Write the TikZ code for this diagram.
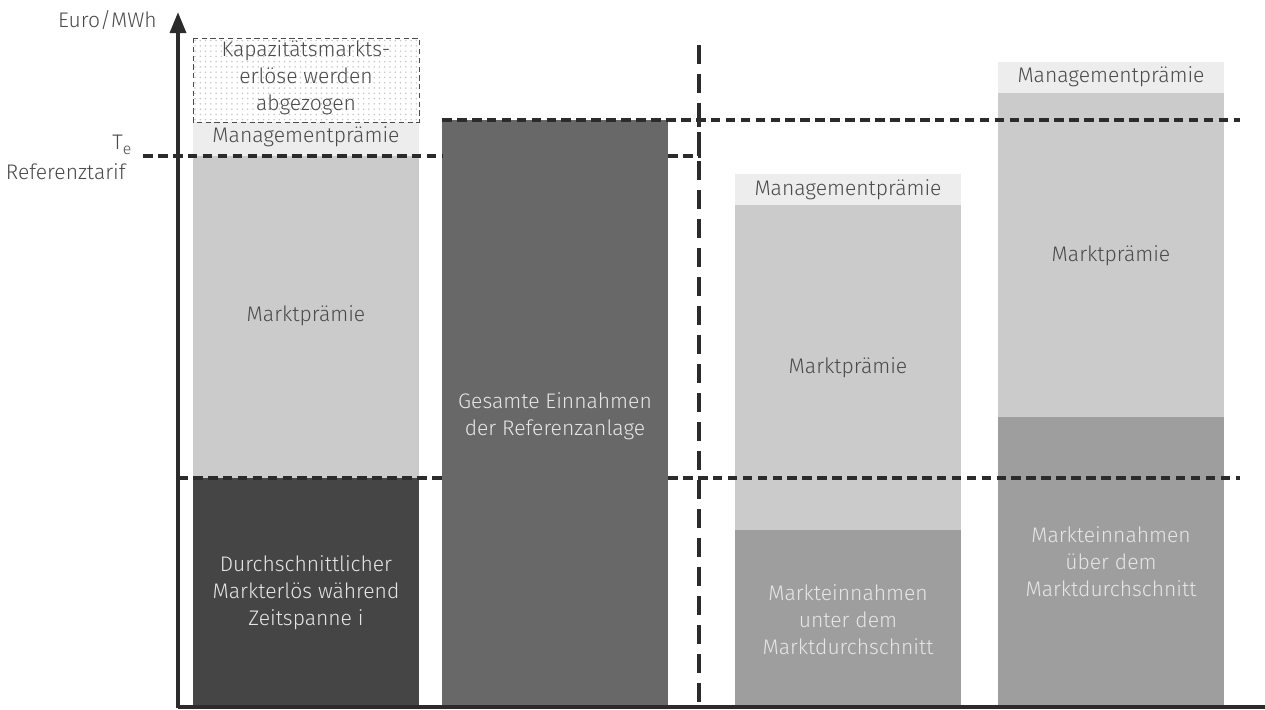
\documentclass[tikz,border=0pt]{standalone}
\usepackage{fontspec}
\setmainfont{Fira Sans Light}
\usetikzlibrary{arrows.meta, patterns}
\definecolor{darkseg}{HTML}{454545}
\definecolor{totalseg}{HTML}{686868}
\definecolor{midseg}{HTML}{9E9E9E}
\definecolor{lightseg}{HTML}{CBCBCB}
\definecolor{mgmtseg}{HTML}{EDEDED}
\definecolor{txtgrey}{HTML}{4A4A4A}
\definecolor{txtlight}{HTML}{E6E6E6}
\definecolor{guide}{HTML}{2B2B2B}

\begin{document}
\begin{tikzpicture}[x=0.02cm, y=-0.02cm,
    every node/.style={font=\fontsize{12}{15.4}\selectfont, align=center, text=txtgrey, inner sep=0pt},
    lighttxt/.style={text=txtlight},
    guideline/.style={draw=guide, line width=2pt, dash pattern=on 5.5pt off 3pt},
    sepline/.style={draw=guide, line width=2.8pt, dash pattern=on 11pt off 5.5pt}]
    \useasboundingbox (0,0) rectangle (1265,710);
    % bar 1: Referenztarif
    \fill[darkseg] (193,478) rectangle (419,706);
    \fill[lightseg] (193,156) rectangle (419,478);
    \fill[mgmtseg] (193,122) rectangle (419,156);
    \draw[pattern=dots, pattern color=gray!45, draw=txtgrey, densely dashed, line width=0.5pt] (193,38) rectangle (419,122);
    \node (kap) at (306,78) {Kapazitätsmarkts-\\erlöse werden\\abgezogen};
    \node (mgmt1) at (306,137) {Managementprämie};
    \node (mp1) at (306,316) {Marktprämie};
    \node[lighttxt] (avg) at (306,593) {Durchschnittlicher\\Markterlös während\\Zeitspanne i};
    % bar 2: Referenzanlage
    \fill[totalseg] (442,120) rectangle (668,706);
    \node[lighttxt] (total) at (555,416) {Gesamte Einnahmen\\der Referenzanlage};
    % bar 3: unter dem Durchschnitt
    \fill[midseg] (735,530) rectangle (961,706);
    \fill[lightseg] (735,205) rectangle (961,530);
    \fill[mgmtseg] (735,174) rectangle (961,205);
    \node (mgmt3) at (848,190) {Managementprämie};
    \node (mp3) at (848,368) {Marktprämie};
    \node[lighttxt] (low) at (848,620) {Markteinnahmen\\unter dem\\Marktdurchschnitt};
    % bar 4: ueber dem Durchschnitt
    \fill[midseg] (998,417) rectangle (1224,706);
    \fill[lightseg] (998,93) rectangle (1224,417);
    \fill[mgmtseg] (998,62) rectangle (1224,93);
    \node (mgmt4) at (1111,77) {Managementprämie};
    \node (mp4) at (1111,256) {Marktprämie};
    \node[lighttxt] (high) at (1111,562) {Markteinnahmen\\über dem\\Marktdurchschnitt};
    % guide lines
    \draw[guideline] (143,156) -- (442,156);
    \draw[guideline] (668,156) -- (699,156) -- (699,120);
    \draw[guideline] (442,120) -- (1240,120);
    \draw[guideline] (178,478) -- (442,478);
    \draw[guideline] (668,478) -- (1240,478);
    \draw[sepline] (699,45) -- (699,704);
    % axes
    \draw[guide, line width=2.3pt] (178,707) -- (1265,707);
    \draw[guide, line width=2.3pt, -{Triangle[length=12pt, width=9pt]}] (178,708) -- (178,12);
    \node[anchor=east] (unit) at (157,20) {Euro/MWh};
    \node[anchor=west] (te) at (112,145) {T\raisebox{-0.45ex}{\fontsize{9}{10}\selectfont e}};
    \node[anchor=east] (ref) at (126,172) {Referenztarif};
\end{tikzpicture}
\end{document}
